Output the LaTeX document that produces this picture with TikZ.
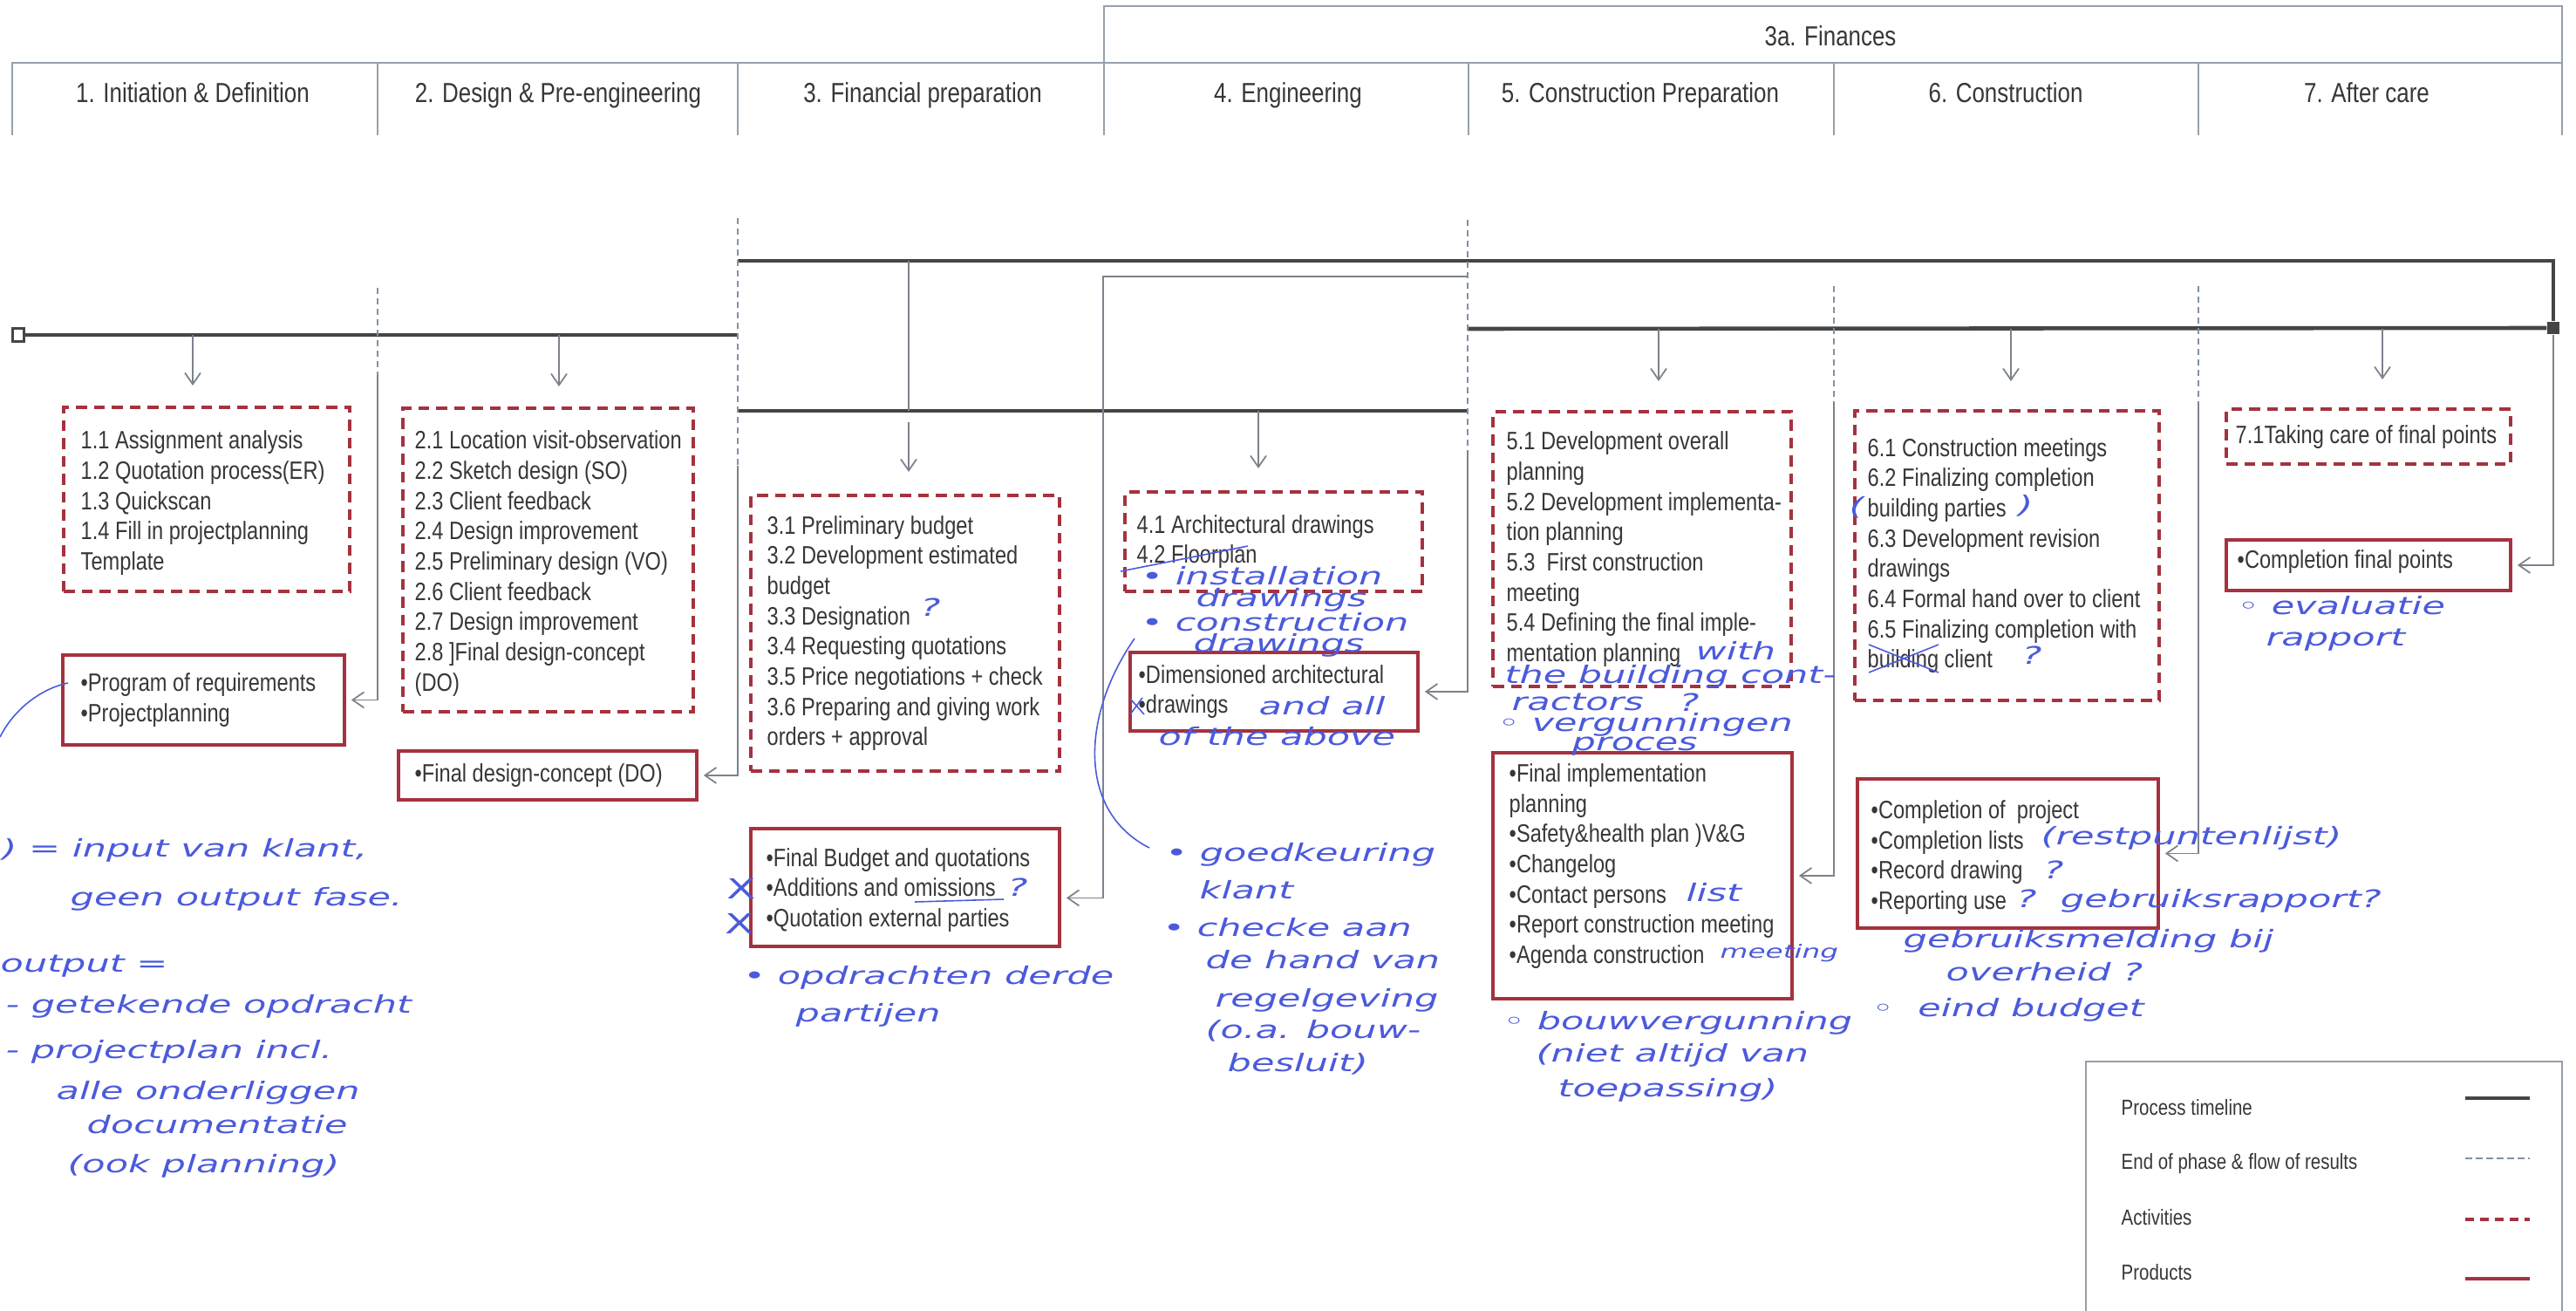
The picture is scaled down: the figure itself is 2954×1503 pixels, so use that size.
\documentclass[tikz,border=0pt]{standalone}
\usepackage{fontspec}
\setmainfont{Liberation Sans}[FakeStretch=0.82]
\newfontfamily\handfont{DejaVu Sans}[FakeStretch=1.55]
\usetikzlibrary{arrows.meta}
\definecolor{ink}{RGB}{55,55,58}
\definecolor{brick}{RGB}{165,50,62}
\definecolor{rulegray}{RGB}{150,160,170}
\definecolor{linegray}{RGB}{68,70,70}
\definecolor{conn}{RGB}{125,130,140}
\definecolor{phaseblue}{RGB}{130,145,165}
\definecolor{pen}{RGB}{75,90,220}
\begin{document}
\begin{tikzpicture}[x=0.1mm, y=-0.1mm,
  boxtext/.style={font=\fontsize{8.2}{9.87}\selectfont, text=ink, align=left, anchor=west, inner sep=0pt},
  activity/.style={draw=brick, line width=1.2pt, dash pattern=on 1.25mm off 0.8mm, anchor=north west, inner sep=0pt},
  product/.style={draw=brick, line width=1.1pt, anchor=north west, inner sep=0pt},
  phaselabel/.style={font=\fontsize{9}{11}\selectfont, text=ink, inner sep=0pt, anchor=base},
  legendtext/.style={font=\fontsize{7.1}{9}\selectfont, text=ink, anchor=west, inner sep=0pt},
  headrule/.style={draw=rulegray, line width=0.5pt},
  timeline/.style={draw=linegray, line width=1.3pt},
  phaseend/.style={draw=phaseblue, line width=0.6pt, dash pattern=on 0.75mm off 0.45mm},
  flow/.style={draw=conn, line width=0.5pt},
  flowarrow/.style={flow, -{Straight Barb[length=1.3mm, width=1.8mm]}, shorten >=0.6mm},
  pen/.style={draw=pen, line width=0.45pt},
  hand/.style={text=pen, font=\handfont\itshape\fontsize{7.9}{9}\selectfont, anchor=west, inner sep=0pt},
  handsmall/.style={hand, font=\handfont\itshape\fontsize{6}{7}\selectfont},
  handbig/.style={hand, anchor=center, font=\handfont\fontsize{9}{10}\selectfont},
]
\fill[white] (0,0) rectangle (2954,1503);
\useasboundingbox (0,0) rectangle (2954,1503);

% ---------- phase header ----------
\draw[headrule] (1266,72) -- (1266,7) -- (2938,7) -- (2938,155);
\draw[headrule] (14,155) -- (14,72) -- (2938,72);
\foreach \x in {433,846,1266,1684,2103,2521} \draw[headrule] (\x,72) -- (\x,155);
\node[phaselabel] (fin) at (2099,53) {3a. Finances};
\node[phaselabel] (h1) at (221,118) {1. Initiation \& Definition};
\node[phaselabel] (h2) at (640,118) {2. Design \& Pre-engineering};
\node[phaselabel] (h3) at (1058,118) {3. Financial preparation};
\node[phaselabel] (h4) at (1477,118) {4. Engineering};
\node[phaselabel] (h5) at (1881,118) {5. Construction Preparation};
\node[phaselabel] (h6) at (2300,118) {6. Construction};
\node[phaselabel] (h7) at (2714,118) {7. After care};

% ---------- activity boxes ----------
\node[activity, minimum width=32.8mm, minimum height=21.1mm] (a1) at (71,465) {};
\node[boxtext] (a1t) at ([xshift=2.1mm, yshift=-0.4mm]a1.west)
  {1.1 Assignment analysis\\1.2 Quotation process(ER)\\1.3 Quickscan\\1.4 Fill in projectplanning\\Template};
\node[activity, minimum width=33.3mm, minimum height=34.8mm] (a2) at (460,466) {};
\node[boxtext] (a2t) at ([xshift=1.5mm, yshift=-0.4mm]a2.west)
  {2.1 Location visit-observation\\2.2 Sketch design (SO)\\2.3 Client feedback\\2.4 Design improvement\\2.5 Preliminary design (VO)\\2.6 Client feedback\\2.7 Design improvement\\2.8 ]Final design-concept\\(DO)};
\node[activity, minimum width=35.4mm, minimum height=31.6mm] (a3) at (859,566) {};
\node[boxtext] (a3t) at ([xshift=2.0mm]a3.west)
  {3.1 Preliminary budget\\3.2 Development estimated\\budget\\3.3 Designation\\3.4 Requesting quotations\\3.5 Price negotiations + check\\3.6 Preparing and giving work\\orders + approval};
\node[activity, minimum width=34.1mm, minimum height=11.4mm] (a4) at (1288,562) {};
\node[boxtext] (a4t) at ([xshift=1.5mm]a4.west)
  {4.1 Architectural drawings\\4.2 Floorplan};
\node[activity, minimum width=34.2mm, minimum height=31.5mm] (a5) at (1710,470) {};
\node[boxtext] (a5t) at ([xshift=1.7mm]a5.west)
  {5.1 Development overall\\planning\\5.2 Development implementa-\\tion planning\\5.3\ \ First construction\\meeting\\5.4 Defining the final imple-\\mentation planning};
\node[activity, minimum width=34.9mm, minimum height=33.2mm] (a6) at (2125,469) {};
\node[boxtext] (a6t) at ([xshift=1.6mm]a6.west)
  {6.1 Construction meetings\\6.2 Finalizing completion\\building parties\\6.3 Development revision\\drawings\\6.4 Formal hand over to client\\6.5 Finalizing completion with\\building client};
\node[activity, minimum width=32.6mm, minimum height=6.3mm] (a7) at (2551,467) {};
\node[boxtext] (a7t) at ([xshift=1.2mm]a7.west) {7.1Taking care of final points};

% ---------- product boxes ----------
\node[product, minimum width=32.3mm, minimum height=10.3mm] (p1) at (70,749) {};
\node[boxtext] (p1t) at ([xshift=2.2mm]p1.west) {•Program of requirements\\•Projectplanning};
\node[product, minimum width=34.2mm, minimum height=5.6mm] (p2) at (455,859) {};
\node[boxtext] (p2t) at ([xshift=2.0mm]p2.west) {•Final design-concept (DO)};
\node[product, minimum width=35.4mm, minimum height=13.5mm] (p3) at (859,948) {};
\node[boxtext] (p3t) at ([xshift=1.9mm, yshift=-0.3mm]p3.west)
  {•Final Budget and quotations\\•Additions and omissions\\•Quotation external parties};
\node[product, minimum width=33.0mm, minimum height=9.0mm] (p4) at (1294,746) {};
\node[boxtext] (p4t) at ([xshift=1.1mm]p4.west) {•Dimensioned architectural\\•drawings};
\node[product, minimum width=34.3mm, minimum height=28.2mm] (p5) at (1710,861) {};
\node[boxtext] (p5t) at ([xshift=2.0mm, yshift=1.1mm]p5.west)
  {•Final implementation\\planning\\•Safety\&health plan )V\&G\\•Changelog\\•Contact persons\\•Report construction meeting\\•Agenda construction};
\node[product, minimum width=34.5mm, minimum height=17.1mm] (p6) at (2128,891) {};
\node[boxtext] (p6t) at ([xshift=1.7mm, yshift=-0.45mm]p6.west)
  {•Completion of\ \ project\\•Completion lists\\•Record drawing\\•Reporting use};
\node[product, minimum width=32.6mm, minimum height=5.8mm] (p7) at (2551,617) {};
\node[boxtext] (p7t) at ([xshift=1.4mm, yshift=0.4mm]p7.west) {•Completion final points};

% ---------- process timeline ----------
\node[draw=linegray, fill=white, line width=0.6pt, minimum width=1.3mm, minimum height=1.5mm, inner sep=0pt] (tstart) at (21,384) {};
\node[fill=linegray, minimum width=1.4mm, minimum height=1.4mm, inner sep=0pt] (tend) at (2928,376) {};
\coordinate (t1e) at (846,384);
\coordinate (tfa) at (846,299);
\coordinate (tfb) at (2928,299);
\coordinate (t34a) at (846,471);
\coordinate (t34b) at (1683,471);
\coordinate (t57a) at (1683,377);
\draw[timeline] (tstart.east) -- (t1e);
\draw[timeline] (tfa) -- (tfb) -- (tend.north);
\draw[timeline] (t34a) -- (t34b);
\draw[timeline] (t57a) -- (tend.west);

% ---------- end of phase & flow of results ----------
\coordinate (b1a) at (433,330); \coordinate (b1b) at (433,430);
\coordinate (b2a) at (846,250); \coordinate (b2b) at (846,534);
\coordinate (b4a) at (1683,252); \coordinate (b4b) at (1683,517);
\coordinate (b5a) at (2103,328); \coordinate (b5b) at (2103,462);
\coordinate (b6a) at (2521,328); \coordinate (b6b) at (2521,462);
\draw[phaseend] (b1a) -- (b1b);
\draw[phaseend] (b2a) -- (b2b);
\draw[phaseend] (b4a) -- (b4b);
\draw[phaseend] (b5a) -- (b5b);
\draw[phaseend] (b6a) -- (b6b);
\draw[flowarrow] (b1b) |- (p1.east);
\draw[flowarrow] (b2b) |- (p2.east);
\draw[flowarrow] (b4b) |- (p4.east);
\draw[flowarrow] (b5b) |- (p5.east);
\draw[flowarrow] (b6b) |- (p6.east);
\draw[flowarrow] (tend.south) |- (p7.east);
\coordinate (f1) at (1683,317); \coordinate (f2) at (1265,317);
\draw[flowarrow] (f1) -- (f2) |- ([yshift=-1.2mm]p3.east);

% ---------- timeline to activities ----------
\coordinate (d1) at (221,384);
\coordinate (d2) at (641,384);
\coordinate (d3a) at (1042,299); \coordinate (d3b) at (1042,471); \coordinate (d3c) at (1042,484);
\coordinate (d4) at (1443,471);
\coordinate (d5) at (1902,377);
\coordinate (d6) at (2306,377);
\coordinate (d7) at (2732,377);
\draw[flowarrow, shorten >=2.3mm] (d1) -- (d1 |- a1.north);
\draw[flowarrow, shorten >=2.3mm] (d2) -- (d2 |- a2.north);
\draw[flow] (d3a) -- (d3b);
\draw[flowarrow, shorten >=2.5mm] (d3c) -- (d3c |- a3.north);
\draw[flowarrow, shorten >=2.5mm] (d4) -- (d4 |- a4.north);
\draw[flowarrow, shorten >=3.3mm] (d5) -- (d5 |- a5.north);
\draw[flowarrow, shorten >=3.2mm] (d6) -- (d6 |- a6.north);
\draw[flowarrow, shorten >=3.2mm] (d7) -- (d7 |- a7.north);

% ---------- legend ----------
\draw[headrule] (2392,1510) -- (2392,1217) -- (2938,1217) -- (2938,1510);
\node[legendtext] (l1) at (2432,1270) {Process timeline};
\node[legendtext] (l2) at (2432,1334) {End of phase \& flow of results};
\node[legendtext] (l3) at (2432,1396) {Activities};
\node[legendtext] (l4) at (2432,1459) {Products};
\draw[timeline] (2827,1259) -- (2901,1259);
\draw[phaseend] (2827,1328) -- (2901,1328);
\draw[draw=brick, line width=1.2pt, dash pattern=on 1.0mm off 0.7mm] (2827,1398) -- (2901,1398);
\draw[draw=brick, line width=1.2pt] (2827,1466) -- (2901,1466);

% ---------- pen notes ----------
\draw[pen] (78,783) .. controls (45,790) and (15,815) .. (0,845);
\node[hand] (n1) at (2,975) {) = input van klant,};
\node[hand] (n2) at (80,1031) {geen output fase.};
\node[hand] (n3) at (0,1108) {output =};
\node[hand] (n4) at (6,1154) {- getekende opdracht};
\node[hand] (n5) at (6,1206) {- projectplan incl.};
\node[hand] (n6) at (64,1253) {alle onderliggen};
\node[hand] (n7) at (99,1289) {documentatie};
\node[hand] (n8) at (77,1337) {(ook planning)};

\node[hand] (n9) at (1055,696) {?};
\node[handbig] (n10) at (850,1019) {X};
\node[handbig] (n11) at (848,1059) {X};
\draw[pen] (1049,1034) -- (1151,1031);
\node[hand] (n12) at (1155,1017) {?};
\node[hand] (n13) at (852,1121) {• opdrachten derde};
\node[hand] (n14) at (912,1164) {partijen};

\draw[pen] (1285,655) -- (1431,626);
\node[hand] (n15) at (1308,660) {• installation};
\node[hand] (n16) at (1371,688) {drawings};
\node[hand] (n17) at (1308,713) {• construction};
\node[hand] (n18) at (1368,740) {drawings};
\draw[pen] (1296,801) -- (1312,819) (1296,819) -- (1310,800);
\node[hand] (n19) at (1443,809) {and all};
\node[hand] (n20) at (1328,844) {of the above};
\draw[pen] (1301,732) .. controls (1240,820) and (1235,930) .. (1318,972);
\node[hand] (n21) at (1336,980) {• goedkeuring};
\node[hand] (n22) at (1375,1020) {klant};
\node[hand] (n23) at (1333,1063) {• checke aan};
\node[hand] (n24) at (1382,1100) {de hand van};
\node[hand] (n25) at (1393,1147) {regelgeving};
\node[hand] (n26) at (1382,1182) {(o.a. bouw-};
\node[hand] (n27) at (1407,1220) {besluit)};

\node[hand] (n28) at (1944,746) {with};
\node[hand] (n29) at (1725,776) {the building cont-};
\node[hand] (n30) at (1733,805) {ractors};
\node[hand] (n31) at (1925,805) {?};
\node[hand] (n32) at (1717,831) {◦ vergunningen};
\node[hand] (n33) at (1802,856) {proces};
\node[hand] (n34) at (1933,1023) {list};
\node[handsmall] (n35) at (1972,1093) {meeting};
\node[hand] (n36) at (1723,1173) {◦ bouwvergunning};
\node[hand] (n37) at (1761,1210) {(niet altijd van};
\node[hand] (n38) at (1786,1250) {toepassing)};

\node[hand] (n39) at (2120,582) {(};
\node[hand] (n40) at (2314,580) {)};
\draw[pen] (2143,739) -- (2223,771) (2143,771) -- (2223,739);
\node[hand] (n41) at (2318,751) {?};
\node[hand] (n42) at (2340,961) {(restpuntenlijst)};
\node[hand] (n43) at (2343,997) {?};
\node[hand] (n44) at (2312,1033) {?\ \ gebruiksrapport?};
\node[hand] (n45) at (2182,1079) {gebruiksmelding bij};
\node[hand] (n46) at (2231,1114) {overheid ?};
\node[hand] (n47) at (2146,1158) {◦\ \ eind budget};

\node[hand] (n48) at (2565,694) {◦ evaluatie};
\node[hand] (n49) at (2598,734) {rapport};
\end{tikzpicture}
\end{document}
